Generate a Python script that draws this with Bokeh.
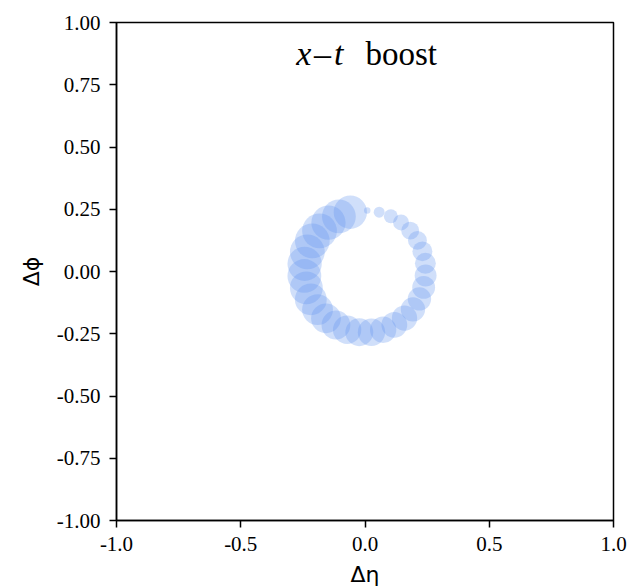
from bokeh.plotting import figure
from bokeh.models import FixedTicker, Label, ColumnDataSource
from bokeh.embed import file_html
from bokeh.resources import INLINE

# particle positions (delta eta, delta phi) and circle radii (data units)
eta = [0.009, 0.057, 0.104, 0.145, 0.182, 0.211, 0.231, 0.243, 0.244, 0.236,
       0.219, 0.193, 0.159, 0.118, 0.073, 0.026, -0.023, -0.072, -0.117, -0.157,
       -0.191, -0.218, -0.236, -0.244, -0.243, -0.232, -0.212, -0.183, -0.147, -0.105,
       -0.059]
phi = [0.245, 0.238, 0.222, 0.197, 0.164, 0.125, 0.081, 0.033, -0.016, -0.064,
       -0.110, -0.152, -0.187, -0.214, -0.234, -0.244, -0.244, -0.234, -0.215, -0.188,
       -0.153, -0.112, -0.066, -0.018, 0.031, 0.079, 0.123, 0.163, 0.196, 0.221,
       0.238]
radius = [0.013, 0.022, 0.028, 0.032, 0.036, 0.038, 0.040, 0.042, 0.044, 0.046,
          0.047, 0.049, 0.051, 0.052, 0.053, 0.055, 0.056, 0.057, 0.058, 0.060,
          0.062, 0.064, 0.066, 0.068, 0.069, 0.070, 0.070, 0.070, 0.069, 0.068,
          0.067]

x_ticks = [-1.0, -0.5, 0.0, 0.5, 1.0]
x_tick_labels = ["-1.0", "-0.5", "0.0", "0.5", "1.0"]
y_ticks = [-1.0, -0.75, -0.5, -0.25, 0.0, 0.25, 0.5, 0.75, 1.0]
y_tick_labels = ["-1.00", "-0.75", "-0.50", "-0.25", "0.00", "0.25", "0.50", "0.75", "1.00"]

p = figure(frame_width=497, frame_height=498, x_range=(-1, 1), y_range=(-1, 1),
           output_backend="svg", toolbar_location=None,
           min_border_left=116, min_border_right=17, min_border_top=22, min_border_bottom=67,
           background_fill_color="white", border_fill_color="white")

src = ColumnDataSource(dict(x=eta, y=phi, r=radius))
p.circle(x="x", y="y", radius="r", source=src, fill_color="#6495ED", fill_alpha=0.3,
         line_color=None)

p.xgrid.visible = False
p.ygrid.visible = False
p.outline_line_color = "black"
p.outline_line_width = 1.5
p.outline_line_alpha = 1.0

for ax, ticks, labels in ((p.xaxis, x_ticks, x_tick_labels), (p.yaxis, y_ticks, y_tick_labels)):
    ax.ticker = FixedTicker(ticks=ticks)
    ax.major_label_overrides = {t: l for t, l in zip(ticks, labels)}
    ax.minor_tick_line_color = None
    ax.major_tick_out = 7
    ax.major_tick_in = 0
    ax.major_tick_line_width = 1.5
    ax.axis_line_width = 1.5
    ax.major_label_text_font = "Liberation Serif"
    ax.major_label_text_font_size = "21px"
    ax.major_label_text_color = "black"
    ax.axis_label_text_font = "DejaVu Sans"
    ax.axis_label_text_font_size = "22px"
    ax.axis_label_text_font_style = "normal"
    ax.axis_label_text_color = "black"

p.xaxis.axis_label = "Δη"
p.yaxis.axis_label = "Δϕ"
p.xaxis.major_label_standoff = 9
p.yaxis.major_label_standoff = 9
p.xaxis.axis_label_standoff = 8
p.yaxis.axis_label_standoff = 10

t1 = Label(x=-0.087, y=0.875, text="x\u200a–\u200at", text_align="right", text_baseline="alphabetic",
           text_font="Liberation Serif", text_font_style="italic", text_font_size="34px",
           text_color="black")
t2 = Label(x=0.002, y=0.875, text="boost", text_align="left", text_baseline="alphabetic",
           text_font="Liberation Serif", text_font_style="normal", text_font_size="33px",
           text_color="black")
p.add_layout(t1)
p.add_layout(t2)

open("out.html", "w").write(file_html(p, INLINE))
